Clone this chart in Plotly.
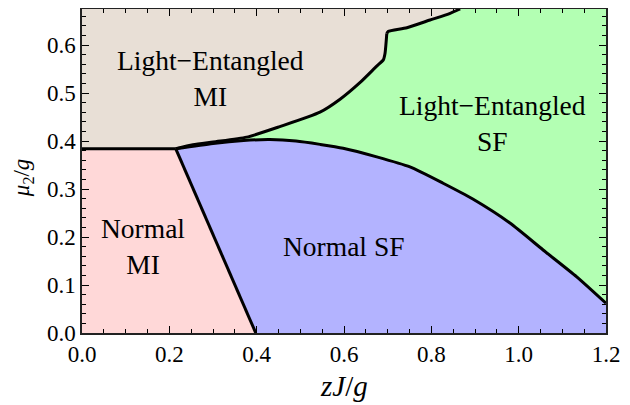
import plotly.graph_objects as go

# Phase boundaries (x = zJ/g, y = mu2/g)
mi_line_x = [0.0, 0.2146]          # Light-Entangled MI / Normal MI
mi_line_y = [0.384, 0.384]
mi_sf_x = [0.2146, 0.398]          # Normal MI / Normal SF
mi_sf_y = [0.384, 0.0]
le_upper_x = [0.2146, 0.254, 0.30, 0.377, 0.453, 0.545, 0.591, 0.637, 0.675,
              0.690, 0.694, 0.698, 0.701, 0.744, 0.797, 0.843, 0.866]
le_upper_y = [0.384, 0.392, 0.398, 0.408, 0.430, 0.460, 0.487, 0.522, 0.556,
              0.569, 0.583, 0.624, 0.628, 0.636, 0.652, 0.666, 0.675]
kink_index = 11                    # sharp corner of the upper boundary
sf_lower_x = [0.2146, 0.30, 0.37, 0.43, 0.49, 0.545, 0.598, 0.675, 0.751,
              0.827, 0.895, 0.980, 1.056, 1.133, 1.2]
sf_lower_y = [0.384, 0.395, 0.401, 0.403, 0.400, 0.393, 0.385, 0.367, 0.346,
              0.312, 0.279, 0.229, 0.173, 0.117, 0.062]

x_min, x_max = 0.0, 1.2
y_min, y_max = 0.0, 0.675
x_ticks = [0.0, 0.2, 0.4, 0.6, 0.8, 1.0, 1.2]
y_ticks = [0.0, 0.1, 0.2, 0.3, 0.4, 0.5, 0.6]

regions = {
    "Normal MI": ([x_min] + mi_sf_x[::-1] + mi_line_x[::-1],
                  [y_min] + mi_sf_y[::-1] + mi_line_y[::-1]),
    "Normal SF": (mi_sf_x + [x_max] + sf_lower_x[::-1],
                  mi_sf_y + [y_min] + sf_lower_y[::-1]),
    "LE SF": (sf_lower_x + [x_max] + le_upper_x[::-1],
              sf_lower_y + [y_max] + le_upper_y[::-1]),
    "LE MI": (mi_line_x + le_upper_x + [x_min],
              mi_line_y + le_upper_y + [y_max]),
}
colors = {
    "Normal MI": "#FFD8D8",
    "Normal SF": "#B3B3FF",
    "LE SF": "#B3FFB3",
    "LE MI": "#E8DFD6",
}

fig = go.Figure()
for name, (xs, ys) in regions.items():
    fig.add_trace(go.Scatter(x=xs, y=ys, fill="toself", fillcolor=colors[name],
                             mode="lines", line=dict(width=0), hoverinfo="skip"))

boundaries = [
    (mi_line_x, mi_line_y, "linear"),
    (mi_sf_x, mi_sf_y, "linear"),
    (le_upper_x[:kink_index + 1], le_upper_y[:kink_index + 1], "spline"),
    (le_upper_x[kink_index:], le_upper_y[kink_index:], "spline"),
    (sf_lower_x, sf_lower_y, "spline"),
]
for xs, ys, shp in boundaries:
    fig.add_trace(go.Scatter(x=xs, y=ys, mode="lines",
                             line=dict(color="black", width=3, shape=shp, smoothing=0.6),
                             hoverinfo="skip"))

serif = "Liberation Serif, Times New Roman, serif"
font_lbl = dict(family=serif, size=27.5, color="black")
labels = [
    ("Light\u2212Entangled<br>MI", 0.295, 0.531),
    ("Light\u2212Entangled<br>SF", 0.940, 0.4375),
    ("Normal<br>MI", 0.140, 0.181),
    ("Normal SF", 0.598, 0.180),
]
for txt, x, y in labels:
    fig.add_annotation(x=x, y=y, text=txt, showarrow=False, font=font_lbl,
                       xanchor="center", yanchor="middle")

# axis titles
fig.add_annotation(xref="paper", yref="paper", x=0.5, y=-0.164,
                   text="<i>zJ</i>/<i>g</i>", showarrow=False,
                   xanchor="center", yanchor="middle",
                   font=dict(family=serif, size=29, color="black"))
fig.add_annotation(xref="paper", yref="paper", x=-0.1126, y=0.478,
                   text="<i>\u03bc</i><sub>2</sub>/<i>g</i>", showarrow=False,
                   textangle=-90, xanchor="center", yanchor="middle",
                   font=dict(family=serif, size=23, color="black"))

axis_common = dict(
    showgrid=False, zeroline=False, showline=True, linecolor="#222", linewidth=1.5,
    mirror="allticks", ticks="inside", ticklen=7, tickwidth=1.2, tickcolor="black",
    tickfont=dict(family=serif, size=23, color="black"), automargin=False,
)
fig.update_xaxes(range=[x_min, x_max], tickvals=x_ticks,
                 ticktext=[f"{v:.1f}" for v in x_ticks],
                 minor=dict(ticks="inside", dtick=0.05, ticklen=4, tickcolor="black",
                            tickwidth=1),
                 **axis_common)
fig.update_yaxes(range=[y_min, y_max], tickvals=y_ticks,
                 ticktext=[f"{v:.1f}" for v in y_ticks],
                 minor=dict(ticks="inside", dtick=0.02, ticklen=4, tickcolor="black",
                            tickwidth=1),
                 **axis_common)

# page has an 8px body margin, so the figure is 8px smaller and margins shifted
fig.update_layout(
    width=622, height=397, showlegend=False,
    margin=dict(l=74, r=24, t=1, b=72),
    paper_bgcolor="white", plot_bgcolor="white",
)
fig.write_html("out.html")
